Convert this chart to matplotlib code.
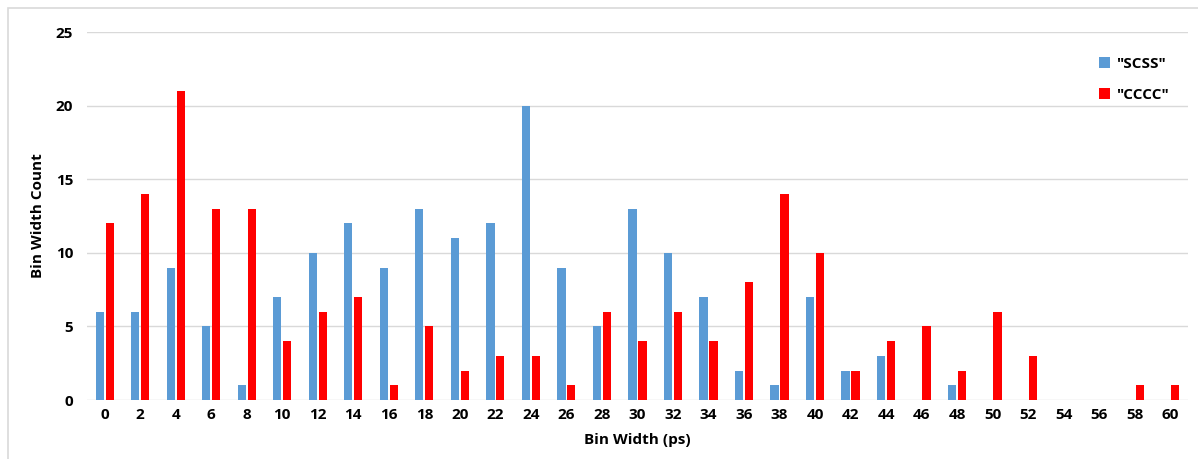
import numpy as np
import matplotlib.pyplot as plt
from matplotlib.patches import Rectangle

plt.rcParams["font.family"] = ["Open Sans", "DejaVu Sans"]
plt.rcParams["font.weight"] = "bold"
plt.rcParams["font.size"] = 11

bins = np.arange(0, 62, 2)
scss = [6, 6, 9, 5, 1, 7, 10, 12, 9, 13, 11, 12, 20, 9, 5, 13, 10, 7, 2, 1, 7, 2, 3, 0, 1, 0, 0, 0, 0, 0, 0]
cccc = [12, 14, 21, 13, 13, 4, 6, 7, 1, 5, 2, 3, 3, 1, 6, 4, 6, 4, 8, 14, 10, 2, 4, 5, 2, 6, 3, 0, 0, 1, 1]

fig = plt.figure(figsize=(11.98, 4.59), dpi=100)
ax = fig.add_axes([0.0726, 0.1285, 0.919, 0.8015])

x = np.arange(len(bins))
w = 0.23
ax.bar(x - 0.14, scss, width=w, color='#5b9bd5', label='"SCSS"')
ax.bar(x + 0.14, cccc, width=w, color='#ff0000', label='"CCCC"')

ax.set_xlim(-0.5, len(bins) - 0.5)
ax.set_ylim(0, 25)
ax.set_yticks(np.arange(0, 26, 5))
ax.set_xticks(x)
ax.set_xticklabels([str(b) for b in bins])
ax.yaxis.grid(True, color='#d9d9d9', linewidth=1)
ax.set_axisbelow(True)
for s in ax.spines.values():
    s.set_visible(False)
ax.tick_params(axis='x', length=0, pad=6)
ax.tick_params(axis='y', length=0, pad=10)
ax.set_xlabel('Bin Width (ps)', fontweight='bold', labelpad=8)
ax.set_ylabel('Bin Width Count', fontweight='bold', labelpad=8)
ax.legend(frameon=False, loc='upper right', bbox_to_anchor=(0.995, 0.97),
          handlelength=0.7, handleheight=0.7, handletextpad=0.4, labelspacing=1.1)

fig.patches.append(Rectangle((8 / 1198, -0.1), 1.2, 1 - 8 / 459 + 0.1, transform=fig.transFigure,
                             fill=False, edgecolor='#d9d9d9', linewidth=1.2))
fig.savefig('out.png', dpi=100)
